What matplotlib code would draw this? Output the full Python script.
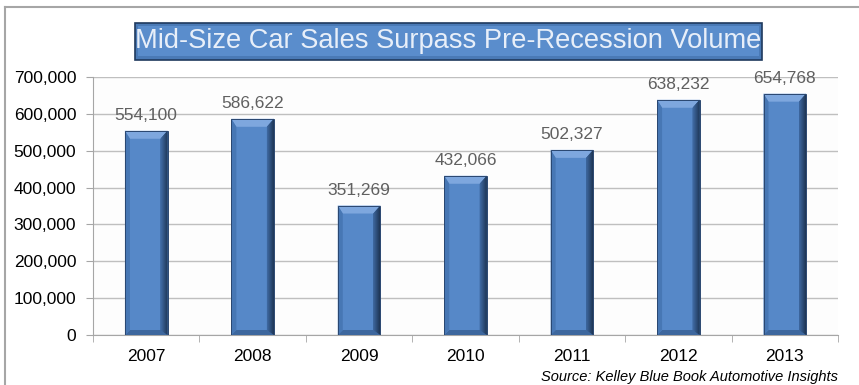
import matplotlib
matplotlib.use("Agg")
import matplotlib.pyplot as plt
import numpy as np
from matplotlib.patches import Rectangle, Polygon, FancyBboxPatch
from matplotlib.colors import LinearSegmentedColormap
from matplotlib.ticker import FuncFormatter, FixedLocator

years = ["2007", "2008", "2009", "2010", "2011", "2012", "2013"]
sales = [554100, 586622, 351269, 432066, 502327, 638232, 654768]
title = "Mid-Size Car Sales Surpass Pre-Recession Volume"
source = "Source: Kelley Blue Book Automotive Insights"

plt.rcParams['font.family'] = ['Liberation Sans', 'DejaVu Sans']

W, H = 859, 385
fig = plt.figure(figsize=(W/100, H/100), dpi=100)
fig.patch.set_facecolor('white')

# outer border (top and left)
fig.add_artist(plt.Line2D([5/W, 5/W], [0, 1-7/H], transform=fig.transFigure, color='#a6a6a6', lw=1.5))
fig.add_artist(plt.Line2D([5/W, 1], [1-7/H, 1-7/H], transform=fig.transFigure, color='#a6a6a6', lw=1.5))

L, R, T, B = 93, 838, 77, 335
ax = fig.add_axes([L/W, 1-B/H, (R-L)/W, (B-T)/H])
ax.set_facecolor('#fdfdfd')

x = np.arange(len(years))
bars = ax.bar(x, sales, width=0.4, color='#5688c8', edgecolor='none', zorder=3)

px_x = 7 / (R - L)      # data units per pixel (x)
px_y = 700000 / (B - T)  # data units per pixel (y)
right_cmap = LinearSegmentedColormap.from_list('r', ['#3f6aa3', '#1e3554'])
for b in bars:
    x0, y0 = b.get_x(), b.get_y()
    w, h = b.get_width(), b.get_height()
    x1, y1 = x0 + w, y0 + h
    sl, sr, st, sb = 5*px_x, 7*px_x, 8*px_y, 5*px_y
    top = Polygon([[x0, y1], [x1, y1], [x1-sr, y1-st], [x0+sl, y1-st]], closed=True,
                  facecolor='#7ea7de', edgecolor='none', zorder=4)
    bot = Polygon([[x0, y0], [x1, y0], [x1-sr, y0+sb], [x0+sl, y0+sb]], closed=True,
                  facecolor='#3d679e', edgecolor='none', zorder=4)
    left = Polygon([[x0, y0], [x0, y1], [x0+sl, y1-st], [x0+sl, y0+sb]], closed=True,
                   facecolor='#4777b4', edgecolor='none', zorder=4)
    right = Polygon([[x1, y0], [x1, y1], [x1-sr, y1-st], [x1-sr, y0+sb]], closed=True,
                    facecolor='#2f5485', edgecolor='none', zorder=4)
    for p in (top, bot, left, right):
        ax.add_patch(p)
    grad = np.linspace(0, 1, 64).reshape(1, -1)
    im = ax.imshow(grad, extent=[x1-sr, x1, y0, y1], aspect='auto', cmap=right_cmap, zorder=4.2)
    im.set_clip_path(right)
    ax.add_patch(Rectangle((x0, y0), w, h, facecolor='none', edgecolor='#2a4770', lw=0.7, zorder=4.5))
    ax.text(x0 + w/2, h + 8*px_y, f"{int(h):,}", ha='center', va='bottom',
            fontsize=12.5, color='#606060', zorder=5)

ax.set_xlim(-0.5, len(years)-0.5)
ax.set_ylim(0, 700000)
ax.yaxis.set_major_locator(FixedLocator(np.arange(0, 700001, 100000)))
ax.yaxis.set_major_formatter(FuncFormatter(lambda v, p: f"{int(v):,}"))
ax.grid(axis='y', color='#bfbfbf', lw=1, zorder=0)
ax.set_axisbelow(True)
ax.set_xticks(x)
ax.set_xticklabels(years)
ax.set_xticks(np.arange(-0.5, len(years), 1), minor=True)
ax.tick_params(axis='x', which='major', length=0, pad=10, labelsize=12.5, colors='black')
ax.tick_params(axis='x', which='minor', length=5, color='#a6a6a6', direction='out')
ax.tick_params(axis='y', length=5, color='#a6a6a6', pad=7, labelsize=12.5, labelcolor='black')
for s in ['top', 'right']:
    ax.spines[s].set_visible(False)
ax.spines['left'].set_color('#a6a6a6')
ax.spines['bottom'].set_color('#a6a6a6')

# title box
tb = FancyBboxPatch((135/W, 1-60/H), (762-135)/W, 37/H, boxstyle='square,pad=0',
                    transform=fig.transFigure, facecolor='#4a7ab6', edgecolor='#1f3a5e', lw=1.2)
fig.add_artist(tb)
inner = FancyBboxPatch((138/W, 1-56/H), (759-138)/W, 30/H, boxstyle='square,pad=0',
                       transform=fig.transFigure, facecolor='#5a8dcc', edgecolor='none')
fig.add_artist(inner)
fig.text((135+762)/2/W, 1-41.5/H, title, ha='center', va='center', fontsize=19.6,
         color='#e8eff9')

fig.text(838/W, 1-377/H, source, ha='right', va='center', fontsize=10.5, style='italic', color='black')

fig.savefig('out.png', dpi=100)
